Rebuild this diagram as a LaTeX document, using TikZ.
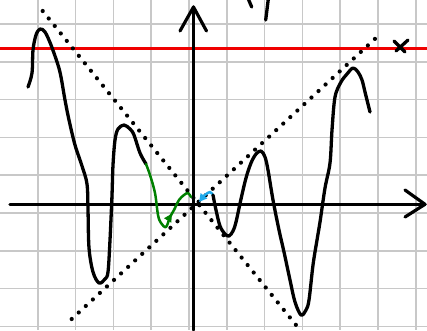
\documentclass[tikz,border=0pt]{standalone}
\usetikzlibrary{arrows.meta,decorations.markings}
\definecolor{gridgray}{RGB}{200,200,200}
\definecolor{penred}{RGB}{240,0,0}
\definecolor{pengreen}{RGB}{0,128,0}
\definecolor{penblue}{RGB}{30,170,235}
\tikzset{
  gridline/.style={gridgray, line width=1.5pt},
  pen/.style={black, line width=3.3pt, line cap=round, line join=round},
  dotline/.style={black, line width=4.2pt, line cap=round, dash pattern=on 0pt off 9.6pt},
  axisline/.style={black, line width=3.2pt, line cap=round, line join=round},
}
\begin{document}
\begin{tikzpicture}[x=1pt,y=-1pt]
\useasboundingbox (0,0) rectangle (427,330);
\fill[white] (0,0) rectangle (427,330);
% grid
\foreach \k in {1,...,11} \draw[gridline] ({37.8*\k},0) -- ({37.8*\k},330);
\foreach \k in {0,...,8} \draw[gridline] (0,{24+37.8*\k}) -- (427,{24+37.8*\k});
% red line
\draw[penred, line width=3.2pt] (0,48.7) -- (427,48.7);
% dotted lines
\coordinate (d1a) at (42.7,11);
\coordinate (d1b) at (296,325);
\coordinate (d2a) at (71.7,319);
\coordinate (d2b) at (381.3,33);
\draw[dotline] (d1a) -- (d1b);
\draw[dotline] (d2a) -- (d2b);
% axes
\coordinate (xs) at (10,204.3);
\coordinate (xe) at (425,204.3);
\coordinate (ys) at (193.5,330);
\coordinate (ye) at (193.5,7);
\draw[axisline] (xs) -- (xe);
\draw[axisline] (ys) -- (ye);
\draw[axisline] (405,190) -- (xe) -- (405,217);
\draw[axisline] (180,31) -- (ye) -- (206.5,31);
% black curve, left part
\draw[pen] plot[smooth, tension=0.55] coordinates {
 (28,87) (32,73) (33,50) (36,35) (40,29) (45,32) (51,45) (58,65) (61,77)
 (65,100) (69,120) (75,145) (82,166) (87,184) (88,210) (89,248) (93,272)
 (99,283) (105,279) (108,272) (110,240) (112,195) (113,165) (115,140)
 (118,129) (124,125) (130,129) (134,135) (140,153) (146,164)};
% green part
\draw[pengreen, line width=2.5pt, line cap=round, line join=round,
  postaction={decorate},
  decoration={markings, mark=at position 0.72 with {\arrow{Triangle[length=8pt,width=8pt]}}}]
  plot[smooth, tension=0.55] coordinates {
 (146,164) (150,175) (155,193) (158,215) (161,223) (166,227) (170,217)
 (174,210) (179,200) (184,195) (188,193) (191,197)};
% blue part
\draw[penblue, line width=2.5pt, line cap=round, line join=round, {Triangle[length=8pt,width=8pt]}-]
  plot[smooth, tension=0.55] coordinates {(199,202) (205,195) (210,192) (213,195)};
% black curve, right part
\draw[pen] plot[smooth, tension=0.55] coordinates {
 (213,195) (216,210) (220,226) (225,234) (229,236) (233,231) (236,222)
 (241,199) (246,178) (251,163) (256,154) (261,151) (265,157) (268,170)
 (273,200) (279,230) (284,252) (290,280) (295,302) (301,315) (306,310)
 (309,300) (313,265) (317,240) (320,222) (325,188) (330,163) (332,130)
 (335,97) (341,82) (347,74) (353,68) (358,72) (362,80) (365,92) (370,112)};
% cross mark
\draw[pen] (394,41) -- (405,52);
\draw[pen] (408,40) -- (396,51);
% cut-off strokes at top
\draw[pen] (248.3,-1) -- (251.7,7);
\draw[pen] (268.3,-1) -- (265.7,20);
\end{tikzpicture}
\end{document}
